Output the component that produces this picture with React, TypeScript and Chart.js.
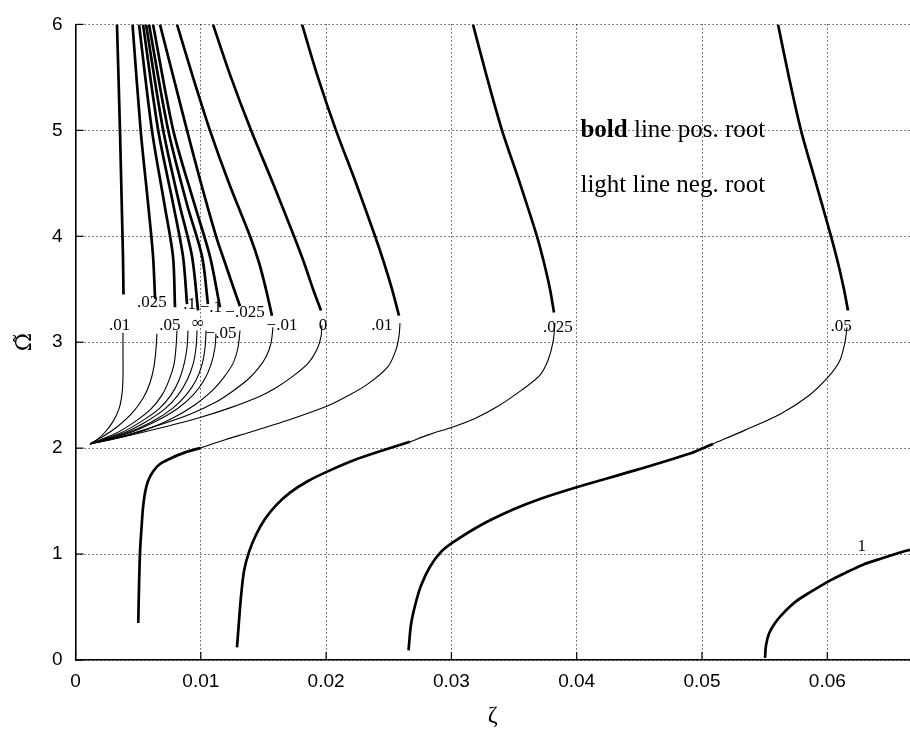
import React, { useEffect, useRef } from 'react';
import { Chart, registerables } from 'chart.js';

Chart.register(...registerables);

type Pt = [number, number];

// ---- axes ----
const xTickValues = [0, 0.01, 0.02, 0.03, 0.04, 0.05, 0.06];
const xTickLabels = ['0', '0.01', '0.02', '0.03', '0.04', '0.05', '0.06'];
const yTickValues = [0, 1, 2, 3, 4, 5, 6];
const yTickLabels = ['0', '1', '2', '3', '4', '5', '6'];
const xMin = 0;
const xMax = 0.0666;
const yMin = 0;
const yMax = 6;

// ---- left family: bold (positive root) upper branches ----
const L_p010_bold: Pt[] = [[0.00331, 6.0], [0.00355, 5.0], [0.00371, 4.2], [0.00379, 3.8], [0.00383, 3.45]];
const L_p025_bold: Pt[] = [[0.00455, 6.0], [0.0052, 5.0], [0.0058, 4.3], [0.00619, 3.81], [0.00635, 3.41]];
const L_p050_bold: Pt[] = [[0.00507, 6.0], [0.0061, 5.0], [0.0071, 4.3], [0.00778, 3.81], [0.00794, 3.33]];
const L_p100_bold: Pt[] = [[0.00539, 6.0], [0.0066, 5.0], [0.0078, 4.3], [0.00858, 3.81], [0.0089, 3.36]];
const L_inf_bold: Pt[] = [[0.00563, 6.0], [0.007, 5.0], [0.0083, 4.3], [0.0093, 3.81], [0.00978, 3.3]];
const L_m100_bold: Pt[] = [[0.00587, 6.0], [0.0074, 5.0], [0.0089, 4.3], [0.0101, 3.81], [0.01057, 3.36]];
const L_m050_bold: Pt[] = [[0.00619, 6.0], [0.0078, 5.0], [0.0095, 4.3], [0.01073, 3.81], [0.01153, 3.33]];
const L_m025_bold: Pt[] = [[0.00674, 6.0], [0.0089, 5.0], [0.01002, 4.5], [0.01122, 4.0], [0.01193, 3.75], [0.01265, 3.5], [0.01313, 3.34]];
const L_m010_bold: Pt[] = [[0.0081, 6.0], [0.00938, 5.5], [0.01073, 5.0], [0.01225, 4.5], [0.01393, 4.0], [0.01465, 3.75], [0.0152, 3.5], [0.01568, 3.25]];
const L_zero_bold: Pt[] = [[0.01097, 6.0], [0.01241, 5.5], [0.01401, 5.0], [0.01576, 4.5], [0.01744, 4.0], [0.01824, 3.75], [0.01896, 3.5], [0.01959, 3.3]];

// ---- left family: light (negative root) branches converging near (0.0012, 2.04) ----
const L_p010_light: Pt[] = [[0.00379, 3.09], [0.00379, 2.88], [0.00379, 2.67], [0.00371, 2.51], [0.00347, 2.37], [0.00299, 2.25], [0.00235, 2.15], [0.00172, 2.08], [0.00116, 2.04]];
const L_p025_light: Pt[] = [[0.0065, 3.08], [0.00642, 2.93], [0.00626, 2.77], [0.00595, 2.62], [0.00539, 2.47], [0.00451, 2.33], [0.00331, 2.2], [0.00219, 2.11], [0.00116, 2.04]];
const L_p050_light: Pt[] = [[0.0081, 3.11], [0.00802, 2.95], [0.00786, 2.79], [0.00746, 2.64], [0.0069, 2.5], [0.00603, 2.37], [0.00475, 2.25], [0.00323, 2.14], [0.00116, 2.04]];
const L_p100_light: Pt[] = [[0.00898, 3.11], [0.0089, 2.95], [0.00866, 2.79], [0.00826, 2.64], [0.00762, 2.5], [0.00666, 2.37], [0.00523, 2.25], [0.00355, 2.14], [0.00116, 2.04]];
const L_inf_light: Pt[] = [[0.0097, 3.11], [0.00962, 2.95], [0.00938, 2.79], [0.0089, 2.64], [0.00818, 2.5], [0.00714, 2.37], [0.00563, 2.25], [0.00379, 2.14], [0.00116, 2.04]];
const L_m100_light: Pt[] = [[0.01042, 3.11], [0.01034, 2.95], [0.0101, 2.79], [0.00962, 2.64], [0.00882, 2.5], [0.0077, 2.37], [0.0061, 2.25], [0.00403, 2.14], [0.00116, 2.04]];
const L_m050_light: Pt[] = [[0.01121, 3.08], [0.01113, 2.95], [0.01082, 2.79], [0.01026, 2.64], [0.00938, 2.5], [0.0081, 2.37], [0.00634, 2.25], [0.00419, 2.14], [0.00116, 2.04]];
const L_m025_light: Pt[] = [[0.01313, 3.11], [0.01297, 2.95], [0.01257, 2.8], [0.01185, 2.67], [0.01089, 2.54], [0.00954, 2.41], [0.0077, 2.28], [0.00555, 2.17], [0.00315, 2.09], [0.00116, 2.04]];
const L_m010_light: Pt[] = [[0.01576, 3.14], [0.0156, 2.99], [0.0152, 2.86], [0.01457, 2.75], [0.01377, 2.65], [0.01257, 2.54], [0.01114, 2.43], [0.00914, 2.32], [0.00674, 2.22], [0.00395, 2.12], [0.00116, 2.04]];
const L_zero_light: Pt[] = [[0.01967, 3.16], [0.01959, 3.05], [0.01927, 2.93], [0.01856, 2.8], [0.01736, 2.68], [0.016, 2.57], [0.01473, 2.49], [0.01233, 2.38], [0.00994, 2.29], [0.00674, 2.19], [0.00395, 2.11], [0.00116, 2.04]];

// ---- right family ----
const R_p010_bold: Pt[] = [[0.01808, 6.0], [0.01935, 5.5], [0.02079, 5.0], [0.02239, 4.5], [0.02391, 4.0], [0.02462, 3.75], [0.02526, 3.5], [0.02582, 3.25]];
const R_p010_light: Pt[] = [[0.0259, 3.18], [0.02582, 3.06], [0.02558, 2.93], [0.02494, 2.77], [0.02326, 2.6], [0.02151, 2.48], [0.02015, 2.4], [0.01712, 2.27], [0.01393, 2.15], [0.01194, 2.08], [0.00994, 2.0]];
const R_p010_boldLow: Pt[] = [[0.00994, 2.0], [0.00874, 1.96], [0.00754, 1.9], [0.00674, 1.85], [0.00619, 1.78], [0.00579, 1.69], [0.00555, 1.58], [0.00539, 1.44], [0.00527, 1.25], [0.00515, 1.02], [0.00507, 0.7], [0.00501, 0.35]];

const R_p025_bold: Pt[] = [[0.03172, 6.0], [0.03284, 5.5], [0.03404, 5.0], [0.03547, 4.5], [0.03683, 4.0], [0.03739, 3.75], [0.03787, 3.5], [0.03819, 3.28]];
const R_p025_light: Pt[] = [[0.03827, 3.18], [0.03811, 3.0], [0.03771, 2.83], [0.03707, 2.69], [0.03563, 2.55], [0.03364, 2.39], [0.03188, 2.28], [0.03013, 2.2], [0.02827, 2.13], [0.02669, 2.06]];
const R_p025_boldLow: Pt[] = [[0.02669, 2.06], [0.0243, 1.97], [0.02231, 1.89], [0.02031, 1.79], [0.01856, 1.69], [0.01712, 1.58], [0.016, 1.46], [0.01512, 1.33], [0.0144, 1.18], [0.01385, 1.02], [0.01345, 0.84], [0.01321, 0.6], [0.01305, 0.37], [0.01289, 0.12]];

const R_p050_bold: Pt[] = [[0.05607, 6.0], [0.05694, 5.5], [0.0579, 5.0], [0.0591, 4.5], [0.0603, 4.0], [0.06085, 3.75], [0.06133, 3.5], [0.06165, 3.3]];
const R_p050_light: Pt[] = [[0.06157, 3.14], [0.06141, 3.0], [0.06101, 2.83], [0.06006, 2.67], [0.05846, 2.49], [0.05622, 2.32], [0.05343, 2.17], [0.05088, 2.04]];
const R_p050_boldLow: Pt[] = [[0.05088, 2.04], [0.05008, 2.0], [0.04904, 1.95], [0.04465, 1.79], [0.04026, 1.64], [0.03707, 1.52], [0.03492, 1.42], [0.0323, 1.27], [0.03012, 1.11], [0.02917, 1.02], [0.02829, 0.88], [0.02757, 0.7], [0.02709, 0.51], [0.02677, 0.33], [0.02658, 0.09]];

const R_one_bold: Pt[] = [[0.05503, 0.02], [0.05511, 0.14], [0.05535, 0.25], [0.05583, 0.35], [0.05655, 0.45], [0.05758, 0.56], [0.05878, 0.65], [0.06006, 0.74], [0.06141, 0.82], [0.06285, 0.9], [0.06437, 0.96], [0.06596, 1.02], [0.0666, 1.04]];

// ---- contour labels ----
const labelTexts = ['.01', '.025', '.05', '.1', '∞', '−.1', '−.05', '−.025', '−.01', '0', '.01', '.025', '.05', '1'];
const labelZeta = [0.00352, 0.0061, 0.00754, 0.0091, 0.00978, 0.0108, 0.01161, 0.01353, 0.01648, 0.01975, 0.02446, 0.0385, 0.0611, 0.06275];
const labelOmega = [3.16, 3.37, 3.16, 3.36, 3.18, 3.33, 3.08, 3.28, 3.16, 3.16, 3.16, 3.14, 3.15, 1.07];

// ---- note text ----
const noteZeta = 0.0403;
const noteOmega = [5.0, 4.48];

const boldSegments: Pt[][] = [
  L_p010_bold, L_p025_bold, L_p050_bold, L_p100_bold, L_inf_bold, L_m100_bold, L_m050_bold, L_m025_bold, L_m010_bold, L_zero_bold,
  R_p010_bold, R_p010_boldLow, R_p025_bold, R_p025_boldLow, R_p050_bold, R_p050_boldLow, R_one_bold,
];
const lightSegments: Pt[][] = [
  L_p010_light, L_p025_light, L_p050_light, L_p100_light, L_inf_light, L_m100_light, L_m050_light, L_m025_light, L_m010_light, L_zero_light,
  R_p010_light, R_p025_light, R_p050_light,
];

const overlayPlugin = {
  id: 'overlay',
  afterDatasetsDraw(chart: any) {
    const { ctx, chartArea, scales } = chart;
    const x = scales.x;
    const y = scales.y;
    ctx.save();
    // inward tick marks
    ctx.strokeStyle = '#000';
    ctx.lineWidth = 1.2;
    ctx.setLineDash([]);
    xTickValues.forEach((v) => {
      const px = x.getPixelForValue(v);
      ctx.beginPath();
      ctx.moveTo(px, chartArea.bottom);
      ctx.lineTo(px, chartArea.bottom - 8);
      ctx.stroke();
    });
    yTickValues.forEach((v) => {
      const py = y.getPixelForValue(v);
      ctx.beginPath();
      ctx.moveTo(chartArea.left, py);
      ctx.lineTo(chartArea.left + 8, py);
      ctx.stroke();
    });
    // contour labels
    ctx.fillStyle = '#000';
    ctx.font = '17px "Liberation Serif", "Times New Roman", serif';
    ctx.textAlign = 'center';
    ctx.textBaseline = 'middle';
    labelTexts.forEach((t, i) => {
      ctx.fillText(t, x.getPixelForValue(labelZeta[i]), y.getPixelForValue(labelOmega[i]));
    });
    // notes
    const nx = x.getPixelForValue(noteZeta);
    ctx.textAlign = 'left';
    ctx.font = 'bold 25px "Liberation Serif", serif';
    const boldWord = 'bold';
    ctx.fillText(boldWord, nx, y.getPixelForValue(noteOmega[0]));
    const bw = ctx.measureText(boldWord).width;
    ctx.font = '25px "Liberation Serif", serif';
    ctx.fillText(' line pos. root', nx + bw, y.getPixelForValue(noteOmega[0]));
    ctx.fillText('light line neg. root', nx, y.getPixelForValue(noteOmega[1]));
    ctx.restore();
  },
};

export default function App() {
  const canvasRef = useRef<HTMLCanvasElement | null>(null);

  useEffect(() => {
    if (!canvasRef.current) return;
    const toData = (seg: Pt[]) => seg.map((p) => ({ x: p[0], y: p[1] }));
    const datasets: any[] = [];
    lightSegments.forEach((seg) => {
      datasets.push({
        data: toData(seg),
        showLine: true,
        borderColor: '#000',
        borderWidth: 1.1,
        pointRadius: 0,
        tension: 0.3,
        fill: false,
      });
    });
    boldSegments.forEach((seg) => {
      datasets.push({
        data: toData(seg),
        showLine: true,
        borderColor: '#000',
        borderWidth: 2.7,
        pointRadius: 0,
        tension: 0.3,
        fill: false,
      });
    });

    const chart = new Chart(canvasRef.current, {
      type: 'scatter',
      data: { datasets },
      options: {
        animation: false,
        responsive: false,
        devicePixelRatio: 1,
        layout: { padding: { top: 14, right: 0, left: 0, bottom: 0 } },
        plugins: { legend: { display: false }, tooltip: { enabled: false } },
        scales: {
          x: {
            type: 'linear',
            min: xMin,
            max: xMax,
            afterBuildTicks: (s: any) => {
              s.ticks = xTickValues.map((v) => ({ value: v }));
            },
            afterFit: (s: any) => {
              s.height = 72;
            },
            ticks: {
              padding: 10,
              color: '#000',
              font: { family: '"Liberation Sans", Arial, sans-serif', size: 19 },
              callback: (_v: any, i: number) => xTickLabels[i],
            },
            grid: { color: '#000', lineWidth: 1, drawTicks: false },
            border: { display: true, color: '#000', width: 1.6, dash: [1, 3] },
            title: {
              display: true,
              text: 'ζ',
              color: '#000',
              font: { family: '"Liberation Serif", serif', size: 24 },
              padding: { top: 0, bottom: 2 },
            },
          },
          y: {
            type: 'linear',
            min: yMin,
            max: yMax,
            afterBuildTicks: (s: any) => {
              s.ticks = yTickValues.map((v) => ({ value: v }));
            },
            afterFit: (s: any) => {
              s.width = 75.5;
            },
            ticks: {
              padding: 13,
              color: '#000',
              font: { family: '"Liberation Sans", Arial, sans-serif', size: 19 },
              callback: (_v: any, i: number) => yTickLabels[i],
            },
            grid: { color: '#000', lineWidth: 1, drawTicks: false },
            border: { display: true, color: '#000', width: 1.6, dash: [1, 3] },
            title: {
              display: true,
              text: 'Ω̃',
              color: '#000',
              font: { family: '"DejaVu Serif", serif', size: 22 },
              padding: { top: 12, bottom: 0 },
            },
          },
        },
      },
      plugins: [overlayPlugin],
    });
    return () => chart.destroy();
  }, []);

  return (
    <div style={{ position: 'absolute', left: 0, top: 0, width: 910, height: 732, background: '#fff' }}>
      <canvas ref={canvasRef} width={910} height={732} style={{ display: 'block' }} />
    </div>
  );
}
